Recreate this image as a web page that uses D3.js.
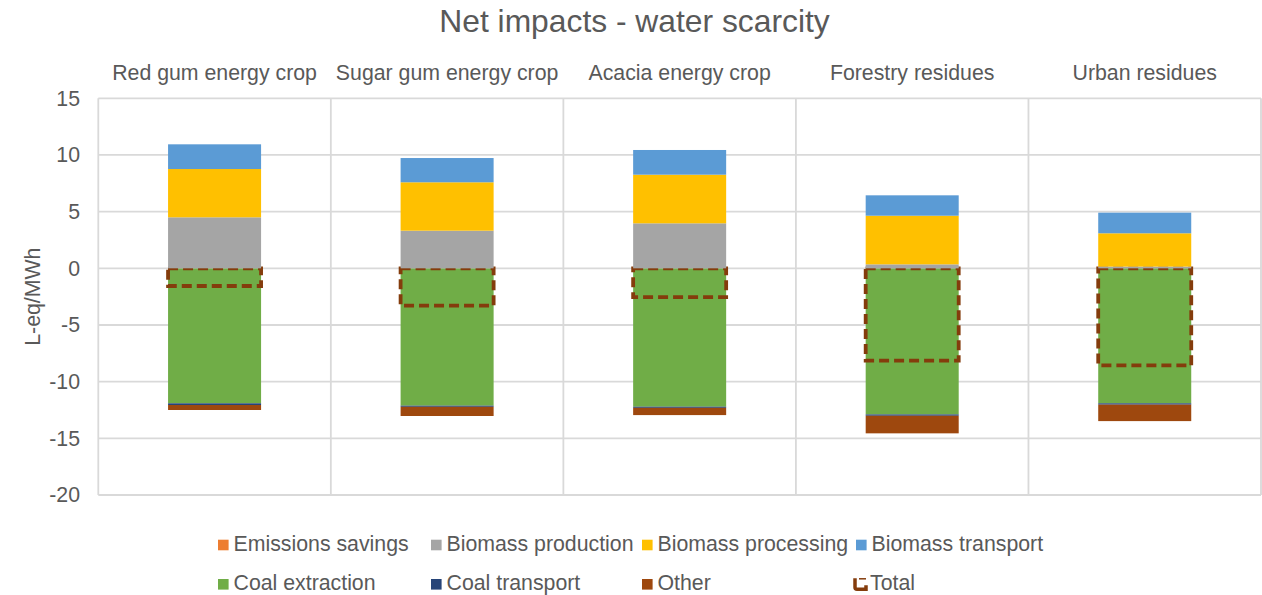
<!DOCTYPE html>
<html>
<head>
<meta charset="utf-8">
<script src="https://cdn.jsdelivr.net/npm/d3@7"></script>
<style>
  html, body { margin: 0; padding: 0; background: #fff; }
  svg { display: block; font-family: "Liberation Sans", Arial, sans-serif; }
</style>
</head>
<body>
<svg id="chart" width="1262" height="595"></svg>
<script>
// Feedstock categories (one panel each)
const categories = ["Red gum energy crop", "Sugar gum energy crop", "Acacia energy crop", "Forestry residues", "Urban residues"];

// Contributions by stage, L-eq/MWh
const emissionsSavings  = [0, 0, 0, 0, 0];
const biomassProduction = [4.5, 3.32, 3.97, 0.35, 0.15];
const biomassProcessing = [4.26, 4.27, 4.29, 4.29, 2.94];
const biomassTransport  = [2.18, 2.14, 2.18, 1.8, 1.82];
const coalExtraction    = [-11.91, -12.12, -12.21, -12.89, -11.91];
const coalTransport     = [-0.15, -0.1, -0.1, -0.12, -0.12];
const other             = [-0.44, -0.81, -0.64, -1.55, -1.45];
const total             = [-1.56, -3.3, -2.55, -8.15, -8.57];

const yTicks = [15, 10, 5, 0, -5, -10, -15, -20];

const seriesNames  = ["Emissions savings", "Biomass production", "Biomass processing", "Biomass transport", "Coal extraction", "Coal transport", "Other"];
const seriesValues = [emissionsSavings, biomassProduction, biomassProcessing, biomassTransport, coalExtraction, coalTransport, other];
const seriesColors = ["#ED7D31", "#A5A5A5", "#FFC000", "#5B9BD5", "#70AD47", "#264478", "#9E480E"];
const totalColor = "#843C0C";
const textColor = "#595959";
const gridColor = "#D9D9D9";

const table = categories.map((c, i) => {
  const row = { category: c };
  seriesNames.forEach((s, k) => { row[s] = seriesValues[k][i]; });
  return row;
});

const svg = d3.select("#chart");
const plotLeft = 98.3, plotRight = 1261, plotTop = 98.3, plotBottom = 495;

const x = d3.scaleBand().domain(categories).range([plotLeft, plotRight]).paddingInner(0.6).paddingOuter(0.3);
const y = d3.scaleLinear().domain([-20, 15]).range([plotBottom, plotTop]);
const step = x.step();

// Title
svg.append("text")
  .attr("x", 634.5).attr("y", 32)
  .attr("text-anchor", "middle")
  .attr("font-size", 31.8)
  .attr("fill", textColor)
  .text("Net impacts - water scarcity");

// Horizontal gridlines
svg.append("g").selectAll("line").data(yTicks).join("line")
  .attr("x1", plotLeft).attr("x2", plotRight)
  .attr("y1", d => y(d)).attr("y2", d => y(d))
  .attr("stroke", gridColor).attr("stroke-width", 1.8);

// Panel borders
const panelEdges = d3.range(categories.length + 1).map(i => plotLeft + i * step);
svg.append("g").selectAll("line").data(panelEdges).join("line")
  .attr("x1", d => d).attr("x2", d => d)
  .attr("y1", plotTop).attr("y2", plotBottom)
  .attr("stroke", gridColor).attr("stroke-width", 1.8);

// Panel labels
svg.append("g").selectAll("text").data(categories).join("text")
  .attr("x", d => x(d) + x.bandwidth() / 2)
  .attr("y", 79.5)
  .attr("text-anchor", "middle")
  .attr("font-size", 21.3)
  .attr("fill", textColor)
  .text(d => d);

// Y axis tick labels (plain hyphen for negatives)
const yAxis = d3.axisLeft(y).tickValues(yTicks).tickSize(0).tickPadding(0).tickFormat(d => String(d));
const gy = svg.append("g").attr("transform", "translate(80,0)").call(yAxis);
gy.select(".domain").remove();
gy.selectAll("text")
  .attr("font-size", 21.3)
  .attr("font-family", "Liberation Sans, Arial, sans-serif")
  .attr("fill", textColor);

// Y axis title
svg.append("text")
  .attr("transform", `translate(40,${(plotTop + plotBottom) / 2}) rotate(-90)`)
  .attr("text-anchor", "middle")
  .attr("font-size", 21.3)
  .attr("fill", textColor)
  .text("L-eq/MWh");

// Stacked contributions
const stack = d3.stack().keys(seriesNames).offset(d3.stackOffsetDiverging);
const layers = stack(table);
const negLayers = layers.filter(l => l.some(d => d[0] < 0 || d[1] < 0));
const posLayers = layers.filter(l => !negLayers.includes(l));

function drawLayers(g, data) {
  g.selectAll("g").data(data).join("g")
    .attr("fill", d => seriesColors[seriesNames.indexOf(d.key)])
    .selectAll("rect").data(d => d).join("rect")
      .attr("x", d => x(d.data.category))
      .attr("width", x.bandwidth())
      .attr("y", d => y(Math.max(d[0], d[1])))
      .attr("height", d => Math.abs(y(d[0]) - y(d[1])));
}

drawLayers(svg.append("g"), negLayers);

// Net total outline
svg.append("g").selectAll("rect").data(categories).join("rect")
  .attr("x", d => x(d))
  .attr("width", x.bandwidth())
  .attr("y", (d, i) => y(Math.max(0, total[i])))
  .attr("height", (d, i) => Math.abs(y(total[i]) - y(0)))
  .attr("fill", "none")
  .attr("stroke", totalColor)
  .attr("stroke-width", 3.8)
  .attr("stroke-dasharray", "10,5");

drawLayers(svg.append("g"), posLayers);

// Legend
const legendCols = [218, 431, 642, 856];
const legendRows = [545, 584.3];
const legendItems = seriesNames.map((n, i) => ({ name: n, color: seriesColors[i], total: false }))
  .concat([{ name: "Total", color: totalColor, total: true }]);

const lg = svg.append("g").selectAll("g").data(legendItems).join("g")
  .attr("transform", (d, i) => `translate(${legendCols[i % 4]},${legendRows[Math.floor(i / 4)]})`);

lg.filter(d => !d.total).append("rect")
  .attr("x", 0).attr("y", -5.3).attr("width", 10.6).attr("height", 10.6)
  .attr("fill", d => d.color);

lg.filter(d => d.total).append("path")
  .attr("d", "M-1,-6 L-1,3 Q-1,5 1,5 L10,5 L10,1")
  .attr("fill", "none")
  .attr("stroke", totalColor)
  .attr("stroke-width", 3.5);
lg.filter(d => d.total).append("path")
  .attr("d", "M3,-5.5 L10,-5.5")
  .attr("fill", "none")
  .attr("stroke", totalColor)
  .attr("stroke-width", 1.5);

lg.append("text")
  .attr("x", d => d.total ? 14 : 15.5)
  .attr("y", 5.7)
  .attr("font-size", 21.3)
  .attr("fill", textColor)
  .text(d => d.name);
</script>
</body>
</html>
